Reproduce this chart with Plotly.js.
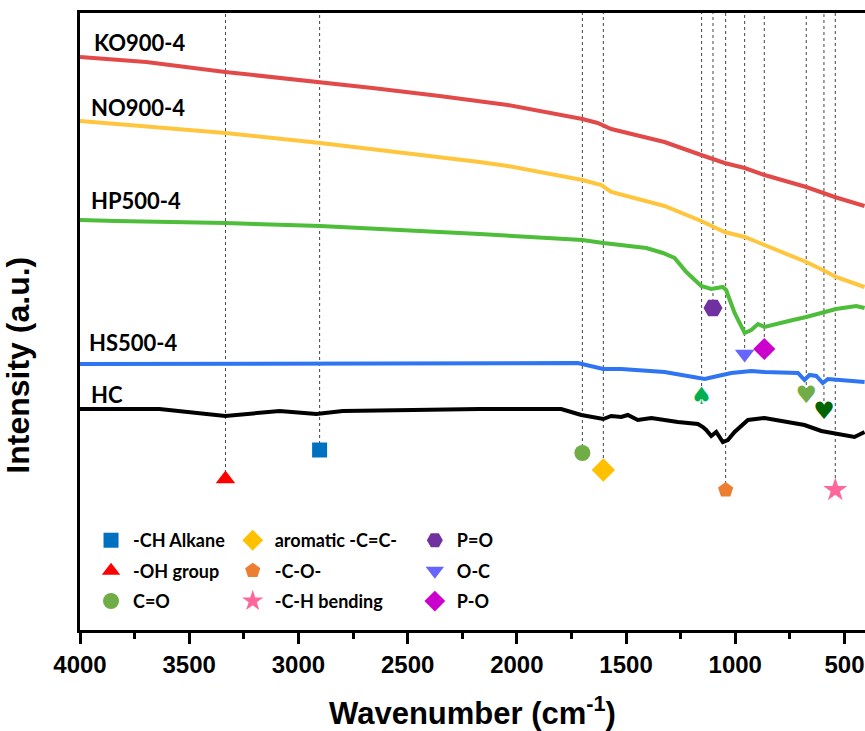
<!DOCTYPE html>
<html>
<head>
<meta charset="utf-8">
<script src="https://cdn.plot.ly/plotly-3.0.1.min.js"></script>
<style>
  html, body { margin: 0; padding: 0; background: #fff; }
  #chart { width: 865px; height: 731px; }
</style>
</head>
<body>
<div id="chart"></div>
<script>
// FTIR spectra, offset vertically (intensity in arbitrary units)
const seriesNames = ['KO900-4', 'NO900-4', 'HP500-4', 'HS500-4', 'HC'];

const wnKO  = [4000, 3697, 3335, 2900, 2661, 2354, 2239, 2042, 1700, 1680, 1630, 1568, 1324, 1156, 1049, 957, 866, 675, 545, 408];
const intKO = [5.73, 5.68, 5.58, 5.48, 5.42, 5.34, 5.31, 5.25, 5.11, 5.10, 5.07, 5.01, 4.88, 4.75, 4.67, 4.62, 4.55, 4.43, 4.33, 4.24];

const wnNO  = [4000, 3335, 2900, 2661, 2354, 2171, 2042, 1700, 1613, 1568, 1324, 1156, 1049, 957, 866, 675, 599, 539, 408];
const intNO = [5.09, 4.97, 4.87, 4.81, 4.73, 4.68, 4.64, 4.50, 4.45, 4.38, 4.24, 4.09, 3.98, 3.93, 3.85, 3.68, 3.60, 3.53, 3.43];

const wnHP  = [4000, 3835, 3335, 2900, 2171, 1804, 1700, 1604, 1407, 1331, 1278, 1224, 1156, 1110, 1057, 1042, 1003, 957, 927, 896, 866, 736, 675, 539, 446, 408];
const intHP = [4.10, 4.09, 4.07, 4.04, 3.96, 3.91, 3.90, 3.87, 3.82, 3.77, 3.72, 3.58, 3.44, 3.41, 3.43, 3.40, 3.17, 2.97, 3.00, 3.06, 3.03, 3.10, 3.13, 3.21, 3.24, 3.22];

const wnHS  = [4000, 3000, 2163, 1721, 1604, 1522, 1324, 1201, 1140, 1080, 1018, 927, 866, 713, 683, 660, 629, 599, 576, 408];
const intHS = [2.66, 2.66, 2.67, 2.67, 2.61, 2.61, 2.58, 2.53, 2.51, 2.54, 2.57, 2.59, 2.58, 2.57, 2.50, 2.55, 2.54, 2.47, 2.51, 2.48];

const wnHC  = [4000, 3636, 3335, 3086, 2918, 2797, 2476, 2171, 1797, 1705, 1604, 1568, 1522, 1492, 1446, 1384, 1263, 1171, 1148, 1133, 1110, 1087, 1057, 1034, 1003, 942, 866, 774, 683, 606, 530, 454, 408];
const intHC = [2.21, 2.21, 2.14, 2.19, 2.16, 2.19, 2.20, 2.21, 2.21, 2.15, 2.11, 2.14, 2.13, 2.15, 2.10, 2.12, 2.08, 2.06, 2.03, 2.00, 1.94, 1.98, 1.88, 1.90, 1.98, 2.10, 2.12, 2.08, 2.05, 1.99, 1.96, 1.93, 1.98];

// Assigned absorption bands (legend entries)
const bandNames = ['-CH Alkane', '-OH group', 'C=O', 'aromatic -C=C-', '-C-O-', '-C-H bending', 'P=O', 'O-C', 'P-O'];
const bandWn    = [2903, 3334, 1700, 1604, 1044, 542, 1102, 957, 867];
const bandY     = [1.80, 1.51, 1.77, 1.60, 1.40, 1.40, 3.22, 2.76, 2.81];

// Extra unlabeled bands marked with card-suit glyphs
const suitGlyphs = ['\u2660', '\u2665', '\u2665'];
const suitWn     = [1154, 675, 594];
const suitY      = [2.32, 2.33, 2.17];

const Y_TOP = 6.17;

const lineColors = ['#e24a4a', '#ffc53d', '#4dbd3a', '#2f74f0', '#000000'];
const bandSymbols = ['square', 'triangle-up', 'circle', 'diamond', 'pentagon', 'star', 'hexagon2', 'triangle-down', 'diamond'];
const bandColors = ['#0070c0', '#ff0000', '#70ad47', '#ffc000', '#ed7d31', '#ff6699', '#7030a0', '#6666ff', '#cc00cc'];
const bandSizes = [15, 17, 16, 18, 16, 18, 19, 17, 17];
const suitColors = ['#00b050', '#70ad47', '#006400'];

const spectra = [[wnKO, intKO], [wnNO, intNO], [wnHP, intHP], [wnHS, intHS], [wnHC, intHC]];

const traces = [];
spectra.forEach(([x, y], i) => {
  traces.push({
    type: 'scatter', mode: 'lines', x: x, y: y, name: seriesNames[i],
    line: { color: lineColors[i], width: 4 }, showlegend: false, hoverinfo: 'x+y+name'
  });
});

const legendIds = ['legend', 'legend2', 'legend3'];
bandNames.forEach((name, i) => {
  traces.push({
    type: 'scatter', mode: 'markers', x: [bandWn[i]], y: [bandY[i]], name: name,
    marker: { symbol: bandSymbols[i], color: bandColors[i], size: bandSizes[i], line: { width: 0 } },
    legend: legendIds[Math.floor(i / 3)], legendgroup: 'g' + i, showlegend: true
  });
});

traces.push({
  type: 'scatter', mode: 'text', x: suitWn, y: suitY, text: suitGlyphs,
  textfont: { family: 'DejaVu Sans', size: 24, color: suitColors },
  textposition: 'middle center', showlegend: false, hoverinfo: 'x'
});

// Dotted guide lines from the top frame down to each band marker
const guideWn = bandWn.concat(suitWn);
const guideY = bandY.concat(suitY);
const shapes = guideWn.map((w, i) => ({
  type: 'line', xref: 'x', yref: 'y', x0: w, x1: w, y0: guideY[i], y1: Y_TOP,
  line: { color: '#444', width: 1, dash: 'dot' }, layer: 'below'
}));

const labelPos = [[3947, 5.88], [3961, 5.23], [3961, 4.30], [3966, 2.88], [3961, 2.36]];
const annotations = seriesNames.map((n, i) => ({
  x: labelPos[i][0], y: labelPos[i][1], xref: 'x', yref: 'y', text: n, showarrow: false,
  xanchor: 'left', yanchor: 'middle',
  font: { family: 'Lato', size: 22, weight: 700, color: '#000' }
}));

// Vertical axis title, set slightly below the plot centre
annotations.push({
  x: -0.079, y: 0.43, xref: 'paper', yref: 'paper', text: 'Intensity (a.u.)',
  textangle: -90, showarrow: false, xanchor: 'center', yanchor: 'middle',
  font: { family: 'Liberation Sans, Arial', size: 32, weight: 700, color: '#000' }
});

const legendFont = { family: 'Lato', size: 18, weight: 700, color: '#000' };
const legendCommon = {
  xref: 'paper', yref: 'paper', xanchor: 'left', yanchor: 'top', bgcolor: 'rgba(0,0,0,0)',
  font: legendFont, traceorder: 'grouped', tracegroupgap: 4, itemsizing: 'trace', itemwidth: 34
};

const layout = {
  width: 865, height: 731,
  margin: { l: 80, r: 0, t: 13, b: 101 },
  paper_bgcolor: '#fff', plot_bgcolor: '#fff',
  showlegend: true,
  legend:  Object.assign({ x: 0.0115, y: 0.175 }, legendCommon),
  legend2: Object.assign({ x: 0.192, y: 0.175 }, legendCommon),
  legend3: Object.assign({ x: 0.424, y: 0.175 }, legendCommon),
  xaxis: {
    range: [4000, 406], autorange: false,
    showline: true, linewidth: 3, linecolor: '#000', mirror: true,
    ticks: 'outside', ticklen: 11, tickwidth: 3, tickcolor: '#000',
    tick0: 0, dtick: 500,
    minor: { dtick: 250, ticks: 'outside', ticklen: 6, tickwidth: 3, tickcolor: '#000' },
    tickfont: { family: 'Liberation Sans, Arial', size: 24, weight: 700, color: '#000' },
    showgrid: false, zeroline: false,
    title: { text: 'Wavenumber (cm<sup>-1</sup>)', standoff: 28,
             font: { family: 'Liberation Sans, Arial', size: 31, weight: 700, color: '#000' } }
  },
  yaxis: {
    range: [0, Y_TOP], autorange: false,
    showline: true, linewidth: 3, linecolor: '#000', mirror: true,
    ticks: '', showticklabels: false, showgrid: false, zeroline: false
  },
  shapes: shapes,
  annotations: annotations
};

Plotly.newPlot('chart', traces, layout, { displayModeBar: false, staticPlot: true });
</script>
</body>
</html>
